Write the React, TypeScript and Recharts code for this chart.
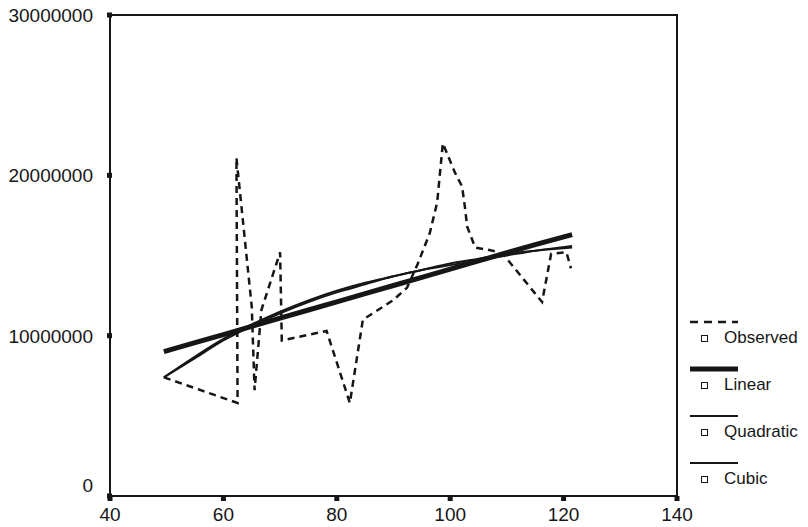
import React from "react";
import {
  ComposedChart,
  Line,
  XAxis,
  YAxis,
  ReferenceArea,
} from "recharts";

// observed values (x, y)
const observedX = [
  49.5, 62.5, 62.3, 65.0, 65.5, 66.7, 70.0, 70.3, 78.2, 82.3, 84.6, 89.9, 92.4,
  94.3, 96.4, 97.7, 98.7, 100.8, 102.1, 102.6, 103.0, 104.4, 107.5, 109.3,
  116.2, 117.8, 120.5, 121.3,
];
const observedY = [
  7400000, 5800000, 21100000, 11800000, 6600000, 11600000, 15200000, 9700000,
  10300000, 5800000, 11000000, 12200000, 13000000, 14500000, 16400000,
  18300000, 22000000, 20200000, 19300000, 18000000, 16800000, 15500000,
  15300000, 15100000, 12100000, 15100000, 15200000, 14200000,
];

// fitted curves, read at these x positions
const fitX = [49.5, 55, 60, 65, 70, 75, 80, 85, 90, 95, 100, 105, 110, 115, 121.5];
const linearY = [
  9000000, 9560000, 10070000, 10580000, 11090000, 11600000, 12110000, 12620000,
  13130000, 13640000, 14150000, 14660000, 15170000, 15680000, 16300000,
];
const quadraticY = [
  7400000, 8600000, 9700000, 10600000, 11400000, 12100000, 12700000, 13200000,
  13700000, 14100000, 14500000, 14800000, 15100000, 15300000, 15500000,
];
const cubicY = [
  7400000, 8700000, 9800000, 10700000, 11500000, 12200000, 12800000, 13300000,
  13700000, 14100000, 14400000, 14700000, 15000000, 15300000, 15600000,
];

const xTicks = [40, 60, 80, 100, 120, 140];
const yTicks = [0, 10000000, 20000000, 30000000];

const legendItems = [
  { name: "Observed", width: 2.5, dash: "8 6" },
  { name: "Linear", width: 5, dash: "" },
  { name: "Quadratic", width: 2, dash: "" },
  { name: "Cubic", width: 2, dash: "" },
];

const observed = observedX.map((x, i) => ({ x, y: observedY[i] }));
const linear = fitX.map((x, i) => ({ x, y: linearY[i] }));
const quadratic = fitX.map((x, i) => ({ x, y: quadraticY[i] }));
const cubic = fitX.map((x, i) => ({ x, y: cubicY[i] }));

const INK = "#161616";
const FONT = "'Liberation Sans', Arial, sans-serif";

function YTick(props: any) {
  const { x, y, payload } = props;
  const lift = payload.value === 0 ? -11 : 0;
  return (
    <g>
      <rect x={x + 11} y={y - 2.5} width={5} height={5} fill={INK} />
      <text
        x={x - 3}
        y={y + lift}
        dy="0.36em"
        textAnchor="end"
        fontSize={19}
        fontFamily={FONT}
        fill={INK}
      >
        {payload.value}
      </text>
    </g>
  );
}

function XTick(props: any) {
  const { x, y, payload } = props;
  return (
    <g>
      <rect x={x - 2.5} y={y - 12} width={5} height={5} fill={INK} />
      <text
        x={x}
        y={y}
        dy="0.71em"
        textAnchor="middle"
        fontSize={19}
        fontFamily={FONT}
        fill={INK}
      >
        {payload.value}
      </text>
    </g>
  );
}

function LegendBox() {
  return (
    <div
      style={{
        position: "absolute",
        top: 317,
        left: 688,
        width: 120,
        fontFamily: FONT,
        color: INK,
      }}
    >
      {legendItems.map((item) => (
        <div key={item.name} style={{ height: 47 }}>
          <svg width={60} height={10} style={{ display: "block" }}>
            <line
              x1={2}
              x2={50}
              y1={5}
              y2={5}
              stroke={INK}
              strokeWidth={item.width}
              strokeDasharray={item.dash || undefined}
            />
          </svg>
          <div
            style={{
              display: "flex",
              alignItems: "center",
              height: 22,
              fontSize: 17,
              whiteSpace: "nowrap",
            }}
          >
            <span
              style={{
                display: "inline-block",
                width: 5,
                height: 5,
                border: `1.5px solid ${INK}`,
                marginLeft: 13,
                marginRight: 16,
              }}
            />
            {item.name}
          </div>
        </div>
      ))}
    </div>
  );
}

export default function App() {
  return (
    <div style={{ position: "relative", width: 808, height: 527, background: "#fff" }}>
      <style>{`body{margin:0}`}</style>
      <ComposedChart
        width={808}
        height={527}
        margin={{ top: 15, right: 131, bottom: 0, left: 10 }}
      >
        <XAxis
          type="number"
          dataKey="x"
          domain={[40, 140]}
          ticks={xTicks}
          allowDataOverflow
          tickLine={false}
          tickSize={6}
          tickMargin={6}
          height={31}
          axisLine={{ stroke: INK, strokeWidth: 2 }}
          tick={<XTick />}
        />
        <YAxis
          type="number"
          dataKey="y"
          domain={[0, 30000000]}
          ticks={yTicks}
          allowDataOverflow
          tickLine={false}
          tickSize={6}
          tickMargin={8}
          width={100}
          axisLine={{ stroke: INK, strokeWidth: 2 }}
          tick={<YTick />}
        />
        <ReferenceArea
          x1={40}
          x2={140}
          y1={0}
          y2={30000000}
          fill="none"
          stroke={INK}
          strokeWidth={2}
          fillOpacity={0}
        />
        <Line
          data={linear}
          dataKey="y"
          name="Linear"
          type="linear"
          stroke={INK}
          strokeWidth={5}
          dot={false}
          isAnimationActive={false}
        />
        <Line
          data={quadratic}
          dataKey="y"
          name="Quadratic"
          type="monotone"
          stroke={INK}
          strokeWidth={2}
          dot={false}
          isAnimationActive={false}
        />
        <Line
          data={cubic}
          dataKey="y"
          name="Cubic"
          type="monotone"
          stroke={INK}
          strokeWidth={2}
          dot={false}
          isAnimationActive={false}
        />
        <Line
          data={observed}
          dataKey="y"
          name="Observed"
          type="linear"
          stroke={INK}
          strokeWidth={2.5}
          strokeDasharray="7 5"
          dot={false}
          isAnimationActive={false}
        />
      </ComposedChart>
      <LegendBox />
    </div>
  );
}
